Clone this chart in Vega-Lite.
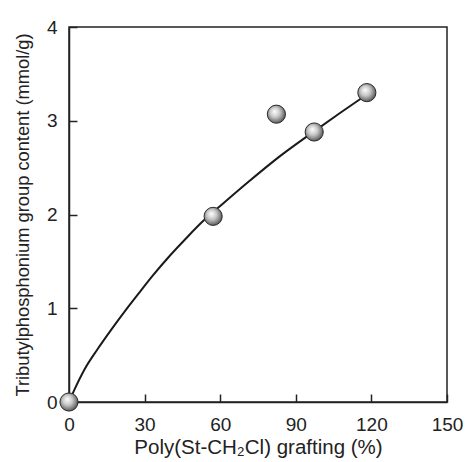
{
  "$schema": "https://vega.github.io/schema/vega-lite/v6.json",
  "width": 378,
  "height": 375,
  "autosize": "none",
  "padding": {"left": 69, "top": 27, "right": 19, "bottom": 60},
  "config": {
    "font": "Liberation Sans",
    "view": {"stroke": "#222", "strokeWidth": 1.5},
    "axis": {
      "domainColor": "#222", "domainWidth": 1.5,
      "tickColor": "#222", "tickWidth": 1.5, "tickSize": -8,
      "labelPadding": 20, "labelFontSize": 19, "labelColor": "#222",
      "labelFlush": false, "labelOverlap": false,
      "titleFontSize": 20, "titleFontWeight": "normal", "titleColor": "#222",
      "grid": false
    }
  },
  "datasets": {
    "points": [
      {"x": 0, "y": 0},
      {"x": 57.2, "y": 1.98},
      {"x": 82.3, "y": 3.07},
      {"x": 97.3, "y": 2.88},
      {"x": 118.2, "y": 3.3}
    ],
    "curve": [
      {"x": 0, "y": 0},
      {"x": 2.3, "y": 0.14},
      {"x": 6.2, "y": 0.35},
      {"x": 11.5, "y": 0.57},
      {"x": 17, "y": 0.78},
      {"x": 22.8, "y": 0.99},
      {"x": 28, "y": 1.17},
      {"x": 33.3, "y": 1.35},
      {"x": 40, "y": 1.56},
      {"x": 46.6, "y": 1.75},
      {"x": 53.2, "y": 1.93},
      {"x": 60, "y": 2.09},
      {"x": 70.4, "y": 2.33},
      {"x": 83.6, "y": 2.62},
      {"x": 97.4, "y": 2.89},
      {"x": 107.4, "y": 3.08},
      {"x": 118.2, "y": 3.28}
    ]
  },
  "layer": [
    {
      "data": {"name": "curve"},
      "mark": {"type": "line", "color": "#1a1a1a", "strokeWidth": 2, "interpolate": "monotone"},
      "encoding": {
        "x": {"field": "x", "type": "quantitative",
              "scale": {"domain": [0, 150], "nice": false},
              "axis": {"values": [0, 30, 60, 90, 120, 150], "format": "d", "title": "Poly(St-CH₂Cl) grafting (%)", "titlePadding": 3, "titleFontSize": 20.5, "labelPadding": 21}},
        "y": {"field": "y", "type": "quantitative",
              "scale": {"domain": [0, 4], "nice": false},
              "axis": {"values": [0, 1, 2, 3, 4], "format": "d", "title": "Tributylphosphonium group content (mmol/g)", "titlePadding": 14, "titleFontSize": 18.3}}
      }
    },
    {
      "data": {"name": "points"},
      "mark": {
        "type": "point", "filled": true, "size": 330, "opacity": 1,
        "stroke": "#2a2a2a", "strokeWidth": 1,
        "fill": {
          "gradient": "radial",
          "x1": 0.4, "y1": 0.35, "r1": 0,
          "x2": 0.45, "y2": 0.45, "r2": 0.6,
          "stops": [
            {"offset": 0, "color": "#ffffff"},
            {"offset": 0.45, "color": "#c8c8c8"},
            {"offset": 0.85, "color": "#6e6e6e"},
            {"offset": 1, "color": "#3a3a3a"}
          ]
        }
      },
      "encoding": {
        "x": {"field": "x", "type": "quantitative"},
        "y": {"field": "y", "type": "quantitative"}
      }
    }
  ]
}
